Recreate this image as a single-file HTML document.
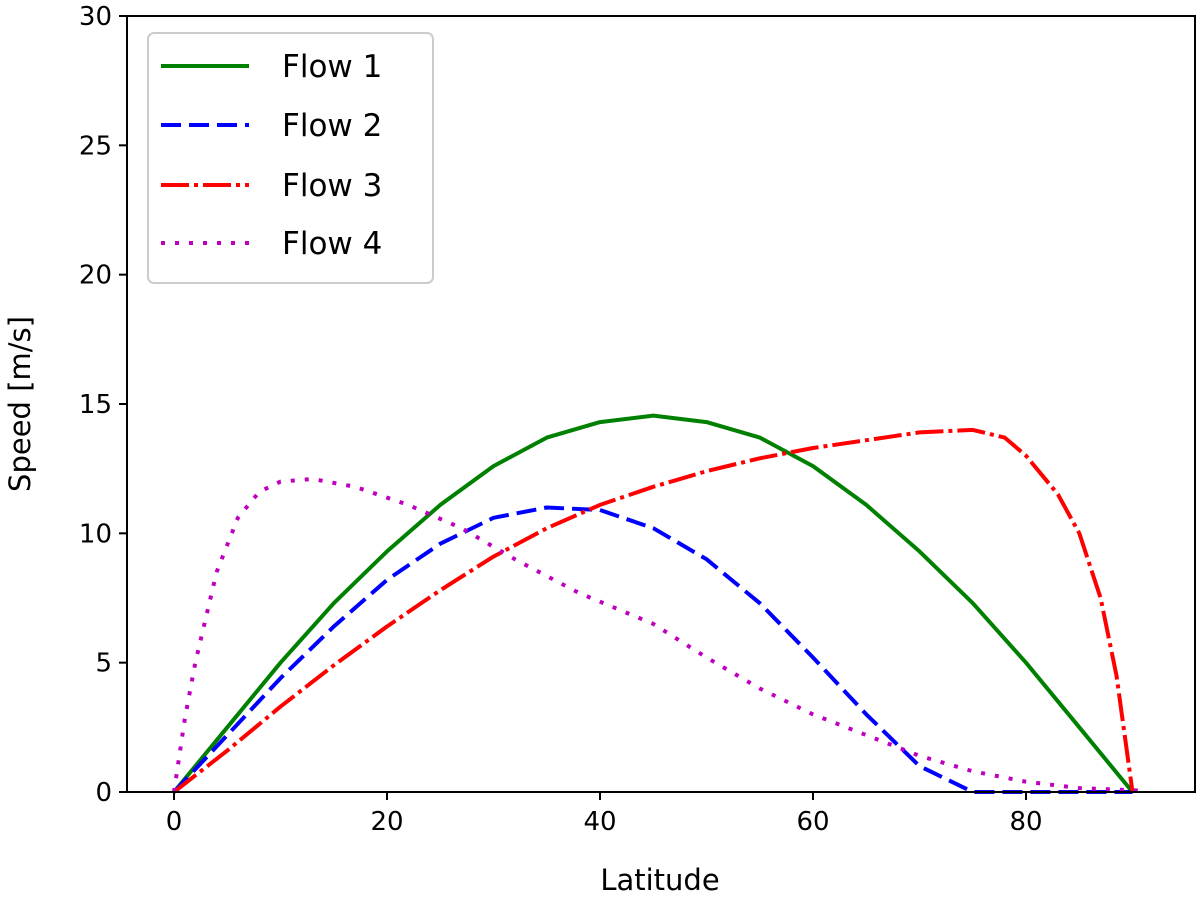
<!DOCTYPE html>
<html><head><meta charset="utf-8"><style>
html,body{margin:0;padding:0;background:#fff;}
svg text{font-family:"DejaVu Sans","Liberation Sans",sans-serif;fill:#000;}
</style></head><body>
<svg id="chart" width="1200" height="896" xmlns="http://www.w3.org/2000/svg">
<g id="grid"></g>
<g id="series"></g>
<rect x="127" y="16" width="1068" height="776" fill="none" stroke="#000" stroke-width="2"/>
<g id="ticks"></g>
<text x="660" y="890" font-size="29" text-anchor="middle">Latitude</text>
<text transform="translate(30,404) rotate(-90)" font-size="29" text-anchor="middle">Speed [m/s]</text>
<g id="legend">
<rect x="148" y="33" width="285" height="250" rx="6" fill="#fff" fill-opacity="0.8" stroke="#ccc" stroke-width="2"/>
</g>
</svg>
<script>
const flow1Lat=[0,5,10,15,20,25,30,35,40,45,50,55,60,65,70,75,80,85,90];
const flow1Val=[0,2.5,5.0,7.3,9.3,11.1,12.6,13.7,14.3,14.55,14.3,13.7,12.6,11.1,9.3,7.3,5.0,2.5,0];
const flow2Lat=[0,5,10,15,20,25,30,35,40,45,50,55,60,65,70,75,80,85,90];
const flow2Val=[0,2.2,4.4,6.4,8.2,9.6,10.6,11.0,10.9,10.2,9.0,7.3,5.2,3.0,1.0,0,0,0,0];
const flow3Lat=[0,5,10,15,20,25,30,35,40,45,50,55,60,65,70,75,78,80,83,85,87,88.5,90];
const flow3Val=[0,1.6,3.3,4.9,6.4,7.8,9.1,10.2,11.1,11.8,12.4,12.9,13.3,13.6,13.9,14.0,13.7,13.0,11.5,10.0,7.5,4.5,0];
const flow4Lat=[0,1,2,4,6,8,10,13,17,22,27,32,38,45,50,55,60,65,70,75,80,85,91];
const flow4Val=[0,2.8,5.0,8.5,10.6,11.6,12.0,12.1,11.8,11.1,10.2,9.0,7.7,6.5,5.2,4.0,3.0,2.2,1.4,0.8,0.4,0.15,0.05];
const xTicks=[0,20,40,60,80];
const yTicks=[0,5,10,15,20,25,30];
const legendLabels=["Flow 1","Flow 2","Flow 3","Flow 4"];
const NS="http://www.w3.org/2000/svg";
const X=v=>174+v*10.65, Y=v=>792-v*25.867;
function mk(t,a,p){const e=document.createElementNS(NS,t);for(const k in a)e.setAttribute(k,a[k]);p.appendChild(e);return e;}
const ticks=document.getElementById('ticks');
xTicks.forEach(v=>{
 const l=mk('line',{x1:X(v),x2:X(v),y1:792,y2:800,stroke:'#000','stroke-width':2},ticks);
 
 
 const t=mk('text',{x:X(v),y:830,'font-size':26,'text-anchor':'middle'},ticks);t.textContent=v;
 
 
});
yTicks.forEach(v=>{
 const l=mk('line',{x1:119,x2:127,y1:Y(v),y2:Y(v),stroke:'#000','stroke-width':2},ticks);
 
 
 const t=mk('text',{x:112,y:Y(v)+9,'font-size':26,'text-anchor':'end'},ticks);t.textContent=v;
 
 
});
const styles=[{c:'#008000',d:''},{c:'#0000ff',d:'20,8'},{c:'#ff0000',d:'28,5,4,5'},{c:'#bf00bf',d:'4,10'}];
const series=[[flow1Lat,flow1Val],[flow2Lat,flow2Val],[flow3Lat,flow3Val],[flow4Lat,flow4Val]];
const sg=document.getElementById('series');
series.forEach((s,i)=>{
 const d=s[0].map((x,j)=>(j?'L':'M')+X(x).toFixed(1)+','+Y(s[1][j]).toFixed(1)).join(' ');
 const p=mk('path',{d:d,fill:'none',stroke:styles[i].c,'stroke-width':4,'stroke-dasharray':styles[i].d,'stroke-linejoin':'round'},sg);
 
 
});
const lg=document.getElementById('legend');
const ly=[66,125,185,243];
legendLabels.forEach((lab,i)=>{
 const l=mk('line',{x1:161,x2:249,y1:ly[i],y2:ly[i],stroke:styles[i].c,'stroke-width':4,'stroke-dasharray':styles[i].d},lg);
 
 
 const t=mk('text',{x:282,y:ly[i]+11,'font-size':31},lg);t.textContent=lab;
 
 
});
</script>
</body></html>
